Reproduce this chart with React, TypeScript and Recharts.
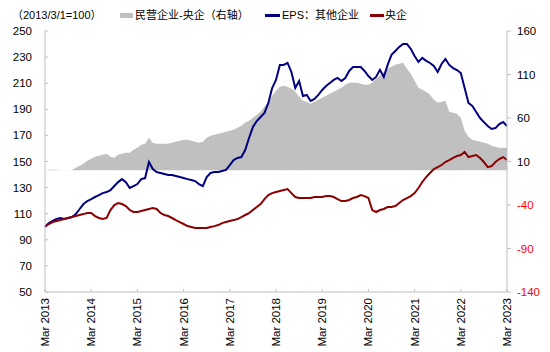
import { ComposedChart, Area, Line, XAxis, YAxis } from "recharts";

// monthly readings, Mar 2013 .. Mar 2023 (one row per year)
// 民营企业-央企（右轴）
const privateMinusCentral = [
  0, 0.4, 0.9, 0.5, -0.3, 0.2, -0.4, 0.1, 2.8, 5.1, 7.4, 10.8,
  13.1, 15.4, 16.6, 17.7, 18.9, 15.4, 14.3, 17.7, 18.9, 20, 20, 23.4,
  25.7, 29.2, 30.3, 37.2, 31.5, 30.3, 30.3, 30.3, 30.3, 31.5, 32.6, 33.8,
  34.9, 34.9, 33.8, 32.6, 31.5, 32.6, 37.2, 39.5, 40.7, 41.8, 43, 44.1,
  45.3, 46.4, 48.7, 51, 54.5, 56.8, 60.2, 63.7, 67.1, 72.9, 78.6, 85.5,
  91.3, 95.9, 97, 95.9, 93.6, 90.1, 84.4, 79.8, 78.6, 76.3, 78.6, 80.9,
  83.2, 85.5, 87.8, 90.1, 92.4, 94.7, 98.2, 100.5, 100.5, 100.5, 99.3, 98.2,
  98.2, 100.5, 105.1, 108.5, 113.1, 116.6, 118.9, 121.2, 122.3, 123.5, 116.6, 110.8,
  102.8, 94.7, 92.4, 90.1, 86.7, 80.9, 77.5, 78.6, 79.8, 67.1, 66, 64.8,
  60.2, 45.3, 38.4, 34.9, 33.8, 32.6, 31.5, 30.3, 28, 26.9, 25.7, 25.7,
  25.7,
];

// EPS：其他企业
const epsOther = [
  100, 102.8, 104.4, 105.9, 106.7, 105.9, 106.7, 107.4, 109.7, 113.6, 117.4, 119.7,
  121.2, 122.8, 124.3, 125.8, 126.6, 128.1, 131.2, 134.2, 136.5, 134.2, 129.7, 131.2,
  132.7, 136.5, 137.3, 149.6, 144.2, 141.9, 141.2, 140.4, 139.6, 139.6, 138.9, 138.1,
  137.3, 136.5, 135.8, 135, 132.7, 131.2, 138.1, 141.2, 141.9, 141.9, 142.7, 143.5,
  147.3, 151.1, 152.7, 153.4, 158.8, 168, 176.4, 181, 184.1, 187.2, 194.8, 206.3,
  212.5, 224, 224, 225.5, 218.6, 206.3, 211.7, 200.2, 201, 196.4, 197.9, 201,
  204.8, 207.9, 210.2, 212.5, 214, 211.7, 214, 219.4, 222.4, 222.4, 222.4, 219.4,
  215.5, 212.5, 214.8, 220.2, 214.8, 224, 231.7, 234.7, 237.8, 240.1, 240.1, 236.3,
  230.9, 226.3, 229.4, 227.1, 225.5, 223.2, 218.6, 224.7, 228.6, 224, 221.6, 220.1,
  217.8, 206.3, 194.8, 192.5, 187.9, 183.3, 180.2, 177.2, 174.9, 175.6, 178.7, 180.2,
  177.2,
];

// 央企
const central = [
  100, 102.1, 103.6, 104.4, 105.1, 105.9, 106.7, 107.4, 108.2, 109, 109.7, 110.5,
  110.5, 108.2, 106.7, 105.9, 106.7, 112.8, 116.6, 118.2, 117.4, 115.9, 112.8, 111.3,
  111.3, 112, 112.8, 113.6, 114.3, 113.6, 110.5, 109, 108.2, 106.7, 105.1, 103.6,
  102.1, 100.5, 99.8, 99, 99, 99, 99, 99.8, 100.5, 101.3, 102.8, 103.6,
  104.4, 105.1, 105.9, 107.4, 109, 110.5, 112.8, 115.1, 117.4, 121.2, 124.3, 125.8,
  126.6, 127.4, 128.1, 128.9, 125.8, 122.8, 122, 122, 122, 122, 122.8, 122.8,
  122.8, 123.5, 123.5, 122.8, 121.2, 119.7, 119.7, 120.5, 122, 122.8, 124.3, 123.5,
  122, 112.8, 111.3, 112.8, 113.6, 115.1, 115.1, 115.9, 118.2, 120.5, 122, 123.5,
  125.8, 129.7, 134.3, 138.1, 141.2, 144.2, 145.7, 147.3, 149.6, 151.1, 152.7, 154.2,
  155, 157.3, 153.4, 154.2, 155, 152.7, 149.6, 145.7, 146.5, 149.6, 151.9, 153.4,
  151.1,
];

const xTicks = [0, 12, 24, 36, 48, 60, 72, 84, 96, 108, 120];
const xTickLabels = [
  "Mar 2013", "Mar 2014", "Mar 2015", "Mar 2016", "Mar 2017", "Mar 2018",
  "Mar 2019", "Mar 2020", "Mar 2021", "Mar 2022", "Mar 2023",
];
const leftTicks = [50, 70, 90, 110, 130, 150, 170, 190, 210, 230, 250];
const rightTicks = [-140, -90, -40, 10, 60, 110, 160];

const data = epsOther.map((v, i) => ({
  m: i,
  eps: v,
  central: central[i],
  spread: privateMinusCentral[i],
}));

const FONT = "'Liberation Sans', Arial, 'Noto Sans CJK SC', sans-serif";
const AXIS = "#bfbfbf";
const BLUE = "#000080";
const RED = "#8b0000";
const GRAY = "#c0c0c0";

const BottomTick = (props: any) => {
  const { x, y, payload } = props;
  const label = xTickLabels[xTicks.indexOf(payload.value)];
  return (
    <g>
      <line x1={x} y1={y} x2={x} y2={y - 3} stroke={AXIS} />
      <text
        transform={`translate(${x},${y + 6}) rotate(-90)`}
        textAnchor="end"
        dy="0.35em"
        fontSize={11.5}
        fill="#000"
        fontFamily={FONT}
      >
        {label}
      </text>
    </g>
  );
};

const LeftTick = (props: any) => {
  const { x, y, payload } = props;
  return (
    <g>
      <line x1={x} y1={y} x2={x + 3} y2={y} stroke={AXIS} />
      <text x={x - 13} y={y} dy="0.35em" textAnchor="end" fontSize={11.5} fill="#000" fontFamily={FONT}>
        {payload.value}
      </text>
    </g>
  );
};

const RightTick = (props: any) => {
  const { x, y, payload } = props;
  return (
    <g>
      <line x1={x} y1={y} x2={x + 4} y2={y} stroke={AXIS} />
      <text
        x={x + 10}
        y={y}
        dy="0.35em"
        textAnchor="start"
        fontSize={11.5}
        fill={payload.value < 0 ? "#ff0000" : "#000"}
        fontFamily={FONT}
      >
        {payload.value}
      </text>
    </g>
  );
};

const legendText = { position: "absolute" as const, top: 8, fontSize: 11, lineHeight: "14px", color: "#000", whiteSpace: "nowrap" as const };

export default function App() {
  return (
    <div style={{ position: "absolute", left: 0, top: 0, width: 550, height: 352, background: "#fff", fontFamily: FONT }}>
      <div style={{ ...legendText, left: 12 }}>（2013/3/1=100）</div>
      <div style={{ position: "absolute", left: 120, top: 13, width: 13, height: 5, background: GRAY }} />
      <div style={{ ...legendText, left: 135 }}>民营企业-央企（右轴）</div>
      <div style={{ position: "absolute", left: 265, top: 14, width: 15, height: 2.5, background: BLUE }} />
      <div style={{ ...legendText, left: 282 }}>EPS：其他企业</div>
      <div style={{ position: "absolute", left: 370, top: 14, width: 14, height: 2.5, background: RED }} />
      <div style={{ ...legendText, left: 385 }}>央企</div>

      <ComposedChart width={550} height={352} data={data} margin={{ top: 31, right: 0, bottom: 0, left: 0 }}>
        <XAxis
          dataKey="m"
          type="number"
          domain={[0, 120]}
          ticks={xTicks}
          interval={0}
          height={60}
          tickSize={0}
          tickMargin={0}
          tickLine={false}
          axisLine={{ stroke: AXIS }}
          tick={<BottomTick />}
        />
        <YAxis
          yAxisId="left"
          orientation="left"
          domain={[50, 250]}
          ticks={leftTicks}
          interval={0}
          width={45}
          tickSize={0}
          tickMargin={0}
          tickLine={false}
          axisLine={{ stroke: AXIS }}
          tick={<LeftTick />}
        />
        <YAxis
          yAxisId="right"
          orientation="right"
          domain={[-140, 160]}
          ticks={rightTicks}
          interval={0}
          width={43}
          tickSize={0}
          tickMargin={0}
          tickLine={false}
          axisLine={{ stroke: AXIS }}
          tick={<RightTick />}
        />
        <Area
          yAxisId="right"
          dataKey="spread"
          type="linear"
          baseValue={0}
          fill={GRAY}
          fillOpacity={1}
          stroke="none"
          isAnimationActive={false}
        />
        <Line yAxisId="left" dataKey="eps" type="linear" stroke={BLUE} strokeWidth={2} dot={false} isAnimationActive={false} />
        <Line yAxisId="left" dataKey="central" type="linear" stroke={RED} strokeWidth={2} dot={false} isAnimationActive={false} />
      </ComposedChart>
    </div>
  );
}
